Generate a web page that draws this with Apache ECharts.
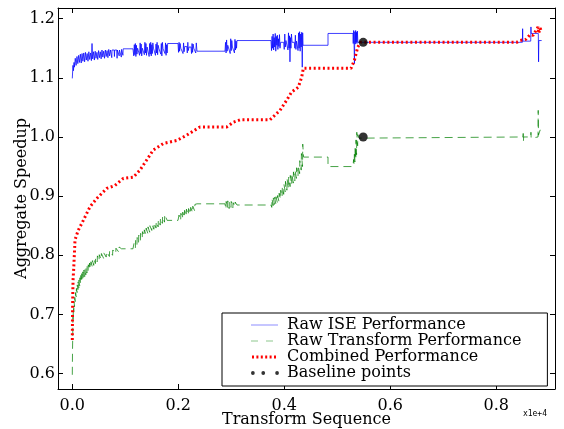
<!DOCTYPE html>
<html>
<head>
<meta charset="utf-8">
<script src="https://cdn.jsdelivr.net/npm/echarts@6/dist/echarts.min.js"></script>
<style>html,body{margin:0;padding:0;background:#fff}#c{width:564px;height:429px}</style>
</head>
<body>
<div id="c"></div>
<script>
// ---- Data (x = transform sequence index, y = aggregate speedup) ----
const xTicks = [0, 2000, 4000, 6000, 8000];
const yTicks = [0.6, 0.7, 0.8, 0.9, 1.0, 1.1, 1.2];
const seriesNames = ['Raw ISE Performance', 'Raw Transform Performance', 'Combined Performance', 'Baseline points'];

const iseData = [
 [0,1.099],[12,1.121],[22,1.112],[32,1.126],[40,1.118],[56,1.133],[72,1.121],[88,1.136],[104,1.124],[120,1.138],
 [136,1.126],[152,1.140],[168,1.125],[184,1.141],[200,1.128],[216,1.142],[232,1.127],[248,1.143],[264,1.130],[280,1.141],
 [296,1.128],[312,1.144],[328,1.131],[344,1.142],[360,1.129],[372,1.158],[384,1.132],[400,1.144],[416,1.130],[432,1.145],
 [448,1.133],[464,1.143],[480,1.131],[496,1.146],[512,1.134],[528,1.144],[544,1.132],[560,1.147],[576,1.135],[592,1.145],
 [608,1.133],[624,1.147],[640,1.136],[656,1.146],[672,1.134],[688,1.148],[704,1.137],[720,1.147],[740,1.147],[745,1.134],
 [750,1.147],[790,1.147],[795,1.136],[800,1.147],[840,1.147],[845,1.133],[850,1.147],[880,1.147],[885,1.137],[890,1.147],
 [920,1.148],[925,1.135],[930,1.148],[950,1.148],[955,1.138],[960,1.149],[1145,1.149],
 [1150,1.149],[1160,1.137],[1170,1.156],[1180,1.139],[1190,1.158],[1200,1.136],[1210,1.155],[1220,1.140],[1232,1.150],[1260,1.150],
 [1270,1.138],[1280,1.159],[1290,1.141],[1300,1.157],[1310,1.137],[1322,1.150],[1350,1.152],[1360,1.139],[1370,1.160],[1380,1.142],
 [1390,1.158],[1400,1.138],[1412,1.152],[1440,1.152],[1450,1.136],[1460,1.158],[1470,1.140],[1480,1.160],[1490,1.137],[1500,1.156],
 [1510,1.141],[1520,1.159],[1532,1.150],[1560,1.150],[1570,1.138],[1580,1.157],[1590,1.142],[1600,1.160],[1610,1.139],[1620,1.155],
 [1632,1.150],[1660,1.150],[1670,1.140],[1680,1.158],[1690,1.137],[1700,1.160],[1712,1.149],[1740,1.151],[1750,1.141],[1760,1.159],
 [1770,1.138],[1780,1.156],[1790,1.142],[1800,1.158],[1995,1.158],
 [2005,1.143],[2015,1.160],[2025,1.145],[2035,1.158],[2047,1.150],[2080,1.152],[2090,1.141],[2100,1.159],[2110,1.144],[2122,1.153],
 [2160,1.153],[2170,1.142],[2180,1.160],[2190,1.146],[2202,1.152],[2240,1.152],[2250,1.141],[2260,1.158],[2270,1.143],[2280,1.157],
 [2292,1.150],[2320,1.150],[2330,1.142],[2340,1.159],[2353,1.145],[2882,1.145],
 [2892,1.160],[2902,1.142],[2912,1.164],[2922,1.145],[2934,1.155],[2970,1.155],[2980,1.141],[2990,1.166],[3000,1.146],[3010,1.163],
 [3022,1.152],[3050,1.152],[3060,1.142],[3070,1.165],[3080,1.147],[3090,1.162],[3100,1.150],[3108,1.163],[3750,1.163],
 [3760,1.146],[3770,1.170],[3780,1.150],[3790,1.174],[3800,1.147],[3810,1.168],[3820,1.152],[3830,1.175],[3840,1.145],[3850,1.170],
 [3860,1.155],[3870,1.172],[3880,1.148],[3890,1.166],[3900,1.153],[3910,1.173],[3920,1.150],[3932,1.160],[3990,1.160],[4000,1.148],
 [4010,1.174],[4020,1.152],[4032,1.163],[4060,1.163],[4070,1.147],[4080,1.176],[4090,1.150],[4100,1.171],[4108,1.127],[4116,1.168],
 [4126,1.150],[4136,1.174],[4148,1.160],[4190,1.160],[4200,1.150],[4210,1.172],[4220,1.148],[4232,1.162],[4250,1.162],[4260,1.146],
 [4270,1.176],[4280,1.150],[4290,1.178],[4300,1.145],[4310,1.174],[4320,1.152],[4330,1.177],[4340,1.118],[4348,1.176],[4354,1.155],
 [4826,1.155],[4826,1.175],[5297,1.175],
 [5302,1.158],[5310,1.180],[5318,1.155],[5325,1.124],[5332,1.178],[5340,1.157],[5348,1.180],[5356,1.160],[5364,1.177],[5372,1.158],
 [5380,1.179],[5390,1.160],[5411,1.160],
 [8495,1.160],[8499,1.183],[8503,1.162],[8652,1.162],[8656,1.186],[8660,1.175],[8795,1.175],[8800,1.127],[8805,1.163],[8858,1.163]
];

const transformData = [
 [0,0.598],[4,0.640],[8,0.662],[12,0.700],[16,0.692],[20,0.712],[28,0.704],[32,0.722],[42,0.713],[46,0.729],
 [58,0.722],[62,0.737],[74,0.730],[78,0.744],[90,0.737],[94,0.750],[106,0.742],[110,0.755],[122,0.745],[126,0.758],
 [140,0.748],[144,0.762],[158,0.752],[162,0.766],[176,0.755],[180,0.769],[195,0.759],[199,0.772],[214,0.762],[218,0.775],
 [234,0.764],[238,0.777],[255,0.767],[259,0.779],[276,0.770],[280,0.781],[298,0.773],[302,0.784],[322,0.776],[326,0.787],
 [348,0.778],[352,0.789],[376,0.781],[380,0.791],[405,0.783],[409,0.793],[436,0.786],[440,0.796],[470,0.789],[474,0.799],
 [505,0.791],[509,0.801],[545,0.793],[549,0.803],[590,0.795],[594,0.804],[640,0.797],[644,0.806],[700,0.798],[704,0.808],
 [760,0.800],[764,0.809],[820,0.803],[824,0.812],[880,0.805],[884,0.814],[929,0.811],[1145,0.811],
 [1160,0.808],[1164,0.820],[1190,0.812],[1194,0.825],[1220,0.817],[1224,0.830],[1250,0.821],[1254,0.834],[1285,0.825],[1289,0.837],
 [1320,0.829],[1324,0.840],[1355,0.832],[1359,0.843],[1390,0.835],[1394,0.846],[1425,0.837],[1429,0.848],[1460,0.839],[1464,0.850],
 [1500,0.842],[1504,0.852],[1540,0.844],[1544,0.855],[1580,0.846],[1584,0.857],[1620,0.848],[1624,0.860],[1660,0.851],[1664,0.863],
 [1700,0.854],[1704,0.866],[1740,0.856],[1744,0.869],[1790,0.859],[1995,0.859],
 [2010,0.856],[2014,0.868],[2045,0.859],[2049,0.871],[2080,0.862],[2084,0.873],[2115,0.864],[2119,0.876],[2150,0.866],[2154,0.878],
 [2190,0.868],[2194,0.879],[2230,0.870],[2234,0.881],[2270,0.872],[2274,0.883],[2310,0.875],[2314,0.886],[2353,0.887],[2882,0.887],
 [2900,0.878],[2904,0.891],[2930,0.880],[2934,0.892],[2960,0.879],[2964,0.890],[2995,0.881],[2999,0.891],[3030,0.880],[3034,0.889],
 [3070,0.882],[3074,0.890],[3108,0.885],[3750,0.885],
 [3765,0.881],[3769,0.896],[3790,0.884],[3794,0.897],[3815,0.886],[3819,0.898],[3840,0.887],[3844,0.899],[3870,0.889],[3874,0.901],
 [3900,0.891],[3904,0.905],[3930,0.895],[3934,0.910],[3960,0.899],[3964,0.915],[3990,0.903],[3994,0.920],[4020,0.907],[4024,0.925],
 [4050,0.910],[4054,0.929],[4080,0.913],[4084,0.932],[4110,0.916],[4114,0.935],[4140,0.919],[4144,0.938],[4170,0.922],[4174,0.941],
 [4200,0.926],[4204,0.944],[4230,0.930],[4234,0.948],[4260,0.934],[4264,0.952],[4290,0.938],[4294,0.960],[4320,0.944],[4324,0.972],
 [4345,0.950],[4349,0.988],[4365,0.966],[4373,0.966],[4826,0.966],[4826,0.950],[5297,0.950],
 [5305,0.950],[5309,0.962],[5320,0.952],[5324,0.975],[5335,0.958],[5339,0.985],[5350,0.962],[5354,0.995],[5365,0.970],[5369,1.008],
 [5385,0.985],[5389,1.004],[5410,0.998],[5440,1.000],
 [8505,1.000],[8510,1.006],[8514,0.992],[8518,1.000],[8652,1.000],[8656,1.008],[8660,0.998],[8664,1.000],[8790,1.000],[8793,1.045],
 [8798,1.003],[8830,1.012],[8858,1.010]
];

const combinedData = [
 [0,0.657],[3,0.690],[6,0.715],[10,0.740],[15,0.760],[25,0.775],[38,0.800],[51,0.826],[110,0.842],[208,0.859],
 [334,0.882],[461,0.896],[649,0.913],[806,0.918],[963,0.930],[1151,0.932],[1277,0.944],[1403,0.961],[1529,0.978],[1718,0.989],
 [1970,0.994],[2159,1.003],[2410,1.017],[2914,1.017],[3040,1.025],[3166,1.029],[3731,1.029],[3920,1.045],[4045,1.062],[4140,1.076],
 [4265,1.084],[4329,1.101],[4360,1.116],[5260,1.116],[5325,1.130],[5388,1.152],[5440,1.160],[8386,1.160],[8448,1.163],[8560,1.165],
 [8640,1.173],[8700,1.172],[8790,1.186],[8800,1.175],[8830,1.184],[8858,1.177]
];

const baselineSeq = [5490, 5490];
const baselineSpeedup = [1.16, 1.0];

// ---- Chart ----
const FONT = 'DejaVu Serif';
const chart = echarts.init(document.getElementById('c'), null, {renderer: 'canvas'});
const fmt1 = v => Number(v).toFixed(1);
const xFmt = v => (v / 10000).toFixed(1);

function xAxisCfg(pos, main) {
  return {
    type: 'value', position: pos, min: -270, max: 9110,
    axisLine: {show: true, onZero: false, lineStyle: {color: '#000', width: 1}},
    axisTick: {show: true, inside: true, length: 5, customValues: xTicks, lineStyle: {color: '#000'}},
    axisLabel: main ? {show: true, customValues: xTicks, formatter: xFmt, fontFamily: FONT, fontSize: 16, color: '#000', margin: 9} : {show: false},
    splitLine: {show: false},
    name: main ? 'Transform Sequence' : '', nameLocation: 'middle', nameGap: 23, nameMoveOverlap: false,
    nameTextStyle: {fontFamily: FONT, fontSize: 16, color: '#000'}
  };
}
function yAxisCfg(pos, main) {
  return {
    type: 'value', position: pos, min: 0.574, max: 1.218,
    axisLine: {show: true, onZero: false, lineStyle: {color: '#000', width: 1}},
    axisTick: {show: true, inside: true, length: 5, customValues: yTicks, lineStyle: {color: '#000'}},
    axisLabel: main ? {show: true, customValues: yTicks, formatter: fmt1, fontFamily: FONT, fontSize: 16, color: '#000', margin: 3} : {show: false},
    splitLine: {show: false},
    name: main ? 'Aggregate Speedup' : '', nameLocation: 'middle', nameGap: 28, nameMoveOverlap: false,
    nameTextStyle: {fontFamily: FONT, fontSize: 16, color: '#000'}
  };
}

const bbox = 'M0,0L0,0ZM31,10L31,10Z';
const iconBlue = 'path://' + bbox + 'M0,4.5H27V5.6H0Z';
const iconGreen = 'path://' + bbox + 'M0,4.4H7V5.6H0ZM15,4.4H22V5.6H15Z';
let dots = '';
for (let i = 0; i < 6; i++) { const x0 = 1 + i * 4.4; dots += 'M' + x0 + ',3.5H' + (x0 + 2) + 'V6.5H' + x0 + 'Z'; }
const iconRed = 'path://' + bbox + dots;
const circ = cx => 'M' + (cx - 1.9) + ',5A1.9,1.9 0 1,0 ' + (cx + 1.9) + ',5A1.9,1.9 0 1,0 ' + (cx - 1.9) + ',5Z';
const iconBlack = 'path://' + bbox + circ(1.5) + circ(12) + circ(26);

const option = {
  animation: false,
  backgroundColor: '#fff',
  grid: {left: 58, right: 9, top: 8, bottom: 40, containLabel: false, outerBoundsMode: 'none'},
  xAxis: [xAxisCfg('bottom', true), xAxisCfg('top', false)],
  yAxis: [yAxisCfg('left', true), yAxisCfg('right', false)],
  legend: {
    orient: 'vertical', left: 222, top: 313, selectedMode: false,
    padding: [4, 26, 5, 29], itemGap: 0, itemWidth: 31, itemHeight: 10,
    borderColor: '#000', borderWidth: 1, backgroundColor: '#fff',
    textStyle: {fontFamily: FONT, fontSize: 16, lineHeight: 15.2, color: '#000'},
    data: [
      {name: seriesNames[0], icon: iconBlue, itemStyle: {color: 'rgba(0,0,255,0.45)'}},
      {name: seriesNames[1], icon: iconGreen, itemStyle: {color: 'rgba(0,128,0,0.45)'}},
      {name: seriesNames[2], icon: iconRed, itemStyle: {color: '#ff0000'}},
      {name: seriesNames[3], icon: iconBlack, itemStyle: {color: '#000'}}
    ]
  },
  graphic: [{
    type: 'text', right: 17, top: 410,
    style: {text: 'x1e+4', fontFamily: 'DejaVu Sans Mono', fontSize: 8, fill: '#000'}
  }],
  series: [
    {name: seriesNames[0], type: 'line', data: iseData, showSymbol: false, symbol: 'none',
     lineStyle: {color: 'rgba(0,0,255,0.75)', width: 1}, itemStyle: {color: 'rgba(0,0,255,0.75)'}, z: 2},
    {name: seriesNames[1], type: 'line', data: transformData, showSymbol: false, symbol: 'none',
     lineStyle: {color: 'rgba(0,128,0,0.72)', width: 1, type: [8, 5]}, itemStyle: {color: 'rgba(0,128,0,0.72)'}, z: 3},
    {name: seriesNames[2], type: 'line', data: combinedData, showSymbol: false, symbol: 'none',
     lineStyle: {color: '#ff0000', width: 3, type: [2, 2.6]}, itemStyle: {color: '#ff0000'}, z: 4},
    {name: seriesNames[3], type: 'scatter', data: baselineSeq.map((s, i) => [s, baselineSpeedup[i]]),
     symbol: 'circle', symbolSize: 9, itemStyle: {color: '#000'}, z: 5}
  ]
};
chart.setOption(option);
</script>
</body>
</html>
